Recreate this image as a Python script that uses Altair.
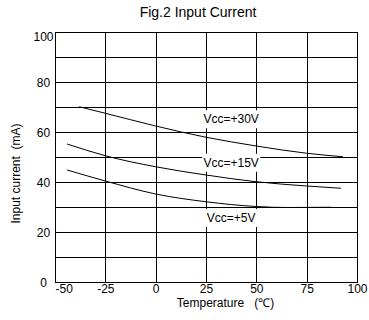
import altair as alt
import pandas as pd

# data
t30 = [-38, -25, 0, 25, 50, 75, 93]
i30 = [70.1, 67.5, 62.4, 57.9, 54.4, 51.5, 50.1]
t15 = [-44, -25, 0, 25, 50, 75, 92]
i15 = [55.2, 50.5, 46.1, 42.8, 40.1, 38.4, 37.5]
t5 = [-44, -25, 0, 25, 50, 65, 87]
i5 = [44.8, 40.4, 35.2, 32.1, 30.2, 29.8, 29.9]

label_text = ["Vcc=+30V", "Vcc=+15V", "Vcc=+5V"]
label_x = [37.5, 37.5, 37.5]
label_y = [65.1, 47.7, 25.6]

x_ticks = [-50, -25, 0, 25, 50, 75, 100]
y_ticks = [0, 10, 20, 30, 40, 50, 60, 70, 80, 90, 100]

rows = []
for name, ts, vs in [("30", t30, i30), ("15", t15, i15), ("5", t5, i5)]:
    for t, v in zip(ts, vs):
        rows.append({"series": name, "temp": t, "cur": v})
df = pd.DataFrame(rows)
lab = pd.DataFrame({"text": label_text, "temp": label_x, "cur": label_y})

FONT = "Liberation Sans"
NB = "\u00a0"

xscale = alt.Scale(domain=[-50, 100], nice=False, zero=False)
yscale = alt.Scale(domain=[0, 100], nice=False)

xaxis = alt.Axis(
    values=x_ticks, title="Temperature" + NB * 3 + "(℃)", grid=True, gridColor="black",
    gridOpacity=1, gridWidth=1, domainColor="black", domainWidth=1, ticks=False,
    labelPadding=1, labelFontSize=12, labelFont=FONT, labelColor="black",
    labelExpr="'' + datum.value",
    labelAlign=alt.expr("datum.value == -50 ? 'left' : 'center'"),
    titleFont=FONT, titleFontSize=12, titleFontWeight="normal", titleColor="black",
    titleX=170, titleY=24, titleBaseline="alphabetic",
)
yaxis = alt.Axis(
    values=y_ticks, title="Input current" + NB * 2 + "(mA)", grid=True, gridColor="black",
    gridOpacity=1, gridWidth=1, domainColor="black", domainWidth=1, ticks=False,
    labelExpr="datum.value % 20 == 0 ? '' + datum.value : ''",
    labelAlign="center", labelPadding=12, labelFontSize=12, labelFont=FONT,
    labelColor="black", labelBaseline="middle",
    labelOffset=alt.expr("datum.value == 100 ? 4 : 0"),
    titleFont=FONT, titleFontSize=12, titleFontWeight="normal", titleColor="black",
    titleX=-40, titleY=141, titleAngle=270, titleAlign="center", titleBaseline="middle",
)

X = alt.X("temp:Q", scale=xscale, axis=xaxis)
Y = alt.Y("cur:Q", scale=yscale, axis=yaxis)

lines = alt.Chart(df).mark_line(color="black", strokeWidth=1, interpolate="monotone").encode(
    x=X, y=Y, detail="series:N",
)

boxes = alt.Chart(lab).mark_rect(color="white", width=58, height=18, opacity=1).encode(
    x=X, y=Y,
)

texts = alt.Chart(lab).mark_text(font=FONT, fontSize=12, color="black").encode(
    x=X, y=Y, text="text:N",
)

chart = alt.layer(lines, boxes, texts).properties(
    width=302, height=250,
    title=alt.TitleParams("Fig.2 Input Current", font=FONT, fontSize=14,
                          fontWeight="normal", color="black", anchor="middle",
                          dx=-8, offset=10),
    autosize=alt.AutoSizeParams(type="none"),
    padding={"left": 55, "top": 32, "right": 12, "bottom": 38},
).configure_view(stroke="black", strokeWidth=1)

chart.save("out.html", embed_options={"renderer": "svg", "actions": False})
